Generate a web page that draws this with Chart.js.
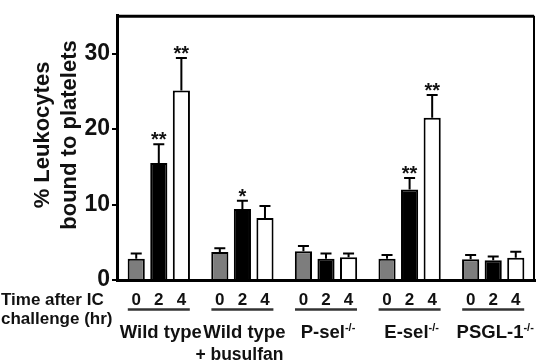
<!DOCTYPE html>
<html><head><meta charset="utf-8">
<script src="https://cdn.jsdelivr.net/npm/chart.js@4/dist/chart.umd.min.js"></script>
<style>html,body{margin:0;padding:0;background:#fff}#wrap{width:537px;height:363px}canvas{display:block}</style>
</head><body>
<div id="wrap"><canvas id="c" width="537" height="363"></canvas></div>
<script>
// ---- data ----
const groupNames = ['Wild type', 'Wild type', 'P-sel', 'E-sel', 'PSGL-1'];
const groupSup = ['', '', '-/-', '-/-', '-/-'];
const groupLine2 = ['', '+ busulfan', '', '', ''];
const timeLabels = ['0', '2', '4'];
const hr0 = [2.8, 3.7, 3.8, 2.8, 2.75];
const hr2 = [15.5, 9.4, 2.8, 12.0, 2.6];
const hr4 = [25.1, 8.2, 3.0, 21.5, 2.95];
const err0 = [0.7, 0.5, 0.7, 0.5, 0.55];
const err2 = [2.5, 1.1, 0.7, 1.5, 0.5];
const err4 = [4.3, 1.6, 0.5, 3.0, 0.8];
const sig0 = ['', '', '', '', ''];
const sig2 = ['**', '*', '', '**', ''];
const sig4 = ['**', '', '', '**', ''];
const yTicks = [0, 10, 20, 30];
const yTitle = ['% Leukocytes', 'bound to platelets'];
const xTitle = ['Time after IC', 'challenge (hr)'];

const FONT = "'Liberation Sans', Arial, Helvetica, sans-serif";
const errs = [err0, err2, err4];
const sigs = [sig0, sig2, sig4];

const decor = {
  id: 'decor',
  afterDatasetsDraw(chart) {
    const ctx = chart.ctx;
    const y = chart.scales.y;
    ctx.save();
    chart.data.datasets.forEach((ds, di) => {
      const meta = chart.getDatasetMeta(di);
      meta.data.forEach((el, i) => {
        const top = y.getPixelForValue(ds.data[i] + errs[di][i]);
        ctx.strokeStyle = '#000';
        ctx.lineWidth = 2;
        ctx.beginPath();
        ctx.moveTo(el.x, el.y);
        ctx.lineTo(el.x, top);
        ctx.moveTo(el.x - 5.5, top);
        ctx.lineTo(el.x + 5.5, top);
        ctx.stroke();
        if (sigs[di][i]) {
          ctx.fillStyle = '#111';
          ctx.font = 'bold 20px ' + FONT;
          ctx.textAlign = 'center';
          ctx.textBaseline = 'alphabetic';
          ctx.fillText(sigs[di][i], el.x, top + 2);
        }
      });
    });
    ctx.restore();
  },
  afterDraw(chart) {
    const ctx = chart.ctx;
    const a = chart.chartArea;
    const x = chart.scales.x;
    ctx.save();
    // frame top/right
    ctx.strokeStyle = '#000';
    ctx.lineWidth = 3;
    ctx.beginPath();
    ctx.moveTo(a.left, a.top + 0.5);
    ctx.lineTo(a.right - 1, a.top + 0.5);
    ctx.stroke();
    ctx.lineWidth = 2;
    ctx.beginPath();
    ctx.moveTo(a.right - 1, a.top);
    ctx.lineTo(a.right - 1, a.bottom);
    ctx.stroke();

    // y title
    ctx.fillStyle = '#111';
    ctx.font = 'bold 22px ' + FONT;
    ctx.textAlign = 'center';
    ctx.textBaseline = 'alphabetic';
    const cy = 135;
    [49, 76].forEach((bx, k) => {
      ctx.save();
      ctx.translate(bx, cy);
      ctx.rotate(-Math.PI / 2);
      ctx.fillText(yTitle[k], 0, 0);
      ctx.restore();
    });

    // x title at left
    ctx.font = 'bold 17px ' + FONT;
    ctx.textAlign = 'left';
    ctx.fillText(xTitle[0], 1, 305);
    ctx.fillText(xTitle[1], 1, 324);

    // per group time labels, underline, names
    const metas = [0, 1, 2].map(d => chart.getDatasetMeta(d));
    groupNames.forEach((name, gi) => {
      const cx = x.getPixelForValue(gi);
      ctx.font = 'bold 17px ' + FONT;
      ctx.textAlign = 'center';
      metas.forEach((m, d) => ctx.fillText(timeLabels[d], m.data[gi].x, 305));
      ctx.strokeStyle = '#333';
      ctx.lineWidth = 2.5;
      ctx.beginPath();
      ctx.moveTo(cx - 31, 309.5);
      ctx.lineTo(cx + 31, 309.5);
      ctx.stroke();
      // name with superscript
      ctx.font = 'bold 18.5px ' + FONT;
      const w1 = ctx.measureText(name).width;
      ctx.font = 'bold 11px ' + FONT;
      const w2 = groupSup[gi] ? ctx.measureText(groupSup[gi]).width : 0;
      const start = cx + 2 - (w1 + w2) / 2;
      ctx.textAlign = 'left';
      ctx.font = 'bold 18.5px ' + FONT;
      ctx.fillText(name, start, 338);
      if (groupSup[gi]) {
        ctx.font = 'bold 11px ' + FONT;
        ctx.fillText(groupSup[gi], start + w1, 331);
      }
      if (groupLine2[gi]) {
        ctx.font = 'bold 17.5px ' + FONT;
        ctx.textAlign = 'center';
        ctx.fillText(groupLine2[gi], cx - 3, 360);
      }
    });
    ctx.restore();
  }
};

new Chart(document.getElementById('c'), {
  type: 'bar',
  data: {
    labels: groupNames,
    datasets: [
      { label: '0', data: hr0, backgroundColor: '#7d7d7d', borderColor: '#000', borderWidth: 2 },
      { label: '2', data: hr2, backgroundColor: '#000', borderColor: '#000', borderWidth: 2 },
      { label: '4', data: hr4, backgroundColor: '#fff', borderColor: '#000', borderWidth: 2 }
    ]
  },
  options: {
    responsive: false,
    animation: false,
    devicePixelRatio: 1,
    categoryPercentage: 0.81,
    barPercentage: 0.76,
    layout: { padding: { top: 1, right: 2, left: 0, bottom: 0 } },
    plugins: { legend: { display: false }, tooltip: { enabled: false } },
    scales: {
      x: {
        ticks: { display: false },
        grid: { display: false },
        border: { display: true, color: '#000', width: 3 },
        afterFit: s => { s.height = 83; }
      },
      y: {
        min: 0, max: 35,
        afterBuildTicks: s => { s.ticks = yTicks.map(v => ({ value: v })); },
        ticks: { color: '#111', font: { family: FONT, size: 23, weight: 'bold' }, padding: 2 },
        grid: { drawOnChartArea: false, drawTicks: true, tickLength: 5, color: '#000', lineWidth: 2 },
        border: { display: true, color: '#000', width: 3 },
        afterFit: s => { s.width = 117; }
      }
    }
  },
  plugins: [decor]
});
</script>
</body></html>
